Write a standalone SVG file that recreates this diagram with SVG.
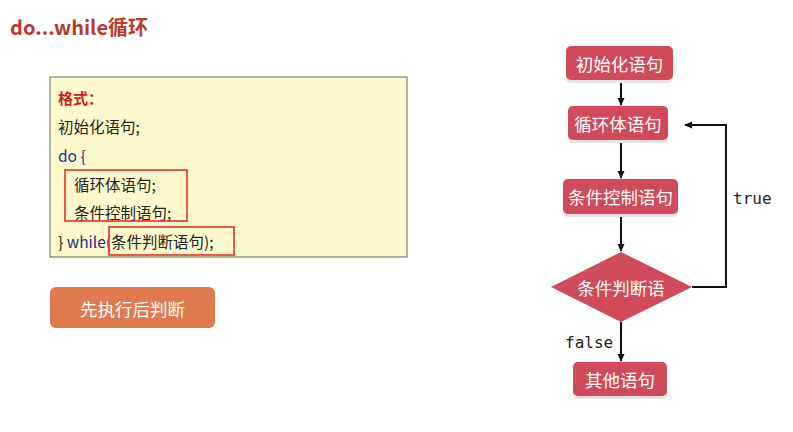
<svg xmlns="http://www.w3.org/2000/svg" width="793" height="432" viewBox="0 0 793 432">
<defs>
<marker id="ah" markerWidth="8" markerHeight="8" refX="7" refY="4" orient="auto" markerUnits="userSpaceOnUse">
<path d="M0,0.5 L8,4 L0,7.5 z" fill="#111"/>
</marker>
</defs>
<style>
text{font-family:"Noto Sans CJK SC","Liberation Sans",sans-serif}
.code{font-size:15.5px;fill:#222}
.node{fill:#d04a5a}
.shadow{fill:#e3e3e3}
.nt{font-size:17.5px;fill:#fff;text-anchor:middle;dominant-baseline:central}
.mono{font-family:"DejaVu Sans Mono","Liberation Mono",monospace;font-size:16px;fill:#222}
.conn{stroke:#111;stroke-width:2;fill:none}
.hl{fill:none;stroke:#e8302a;stroke-width:1.6}
</style>
<rect width="793" height="432" fill="#fff"/>
<text x="10" y="35" font-size="20" font-weight="bold" fill="#b83b2e">do...while循环</text>

<g id="code-box">
<rect x="50" y="77" width="357" height="180" fill="#fdf9cc" stroke="#666" stroke-width="1"/>
<text x="58" y="104" font-size="15" font-weight="bold" fill="#cc1f1a">格式：</text>
<text x="58" y="133" class="code">初始化语句;</text>
<text x="58" y="162" class="code" style="fill:#1d2a8c">do {</text>
<text x="74" y="191" class="code">循环体语句;</text>
<text x="74" y="219" class="code">条件控制语句;</text>
<text x="58" y="248" class="code"><tspan fill="#222">} </tspan><tspan fill="#1d2a8c">while(</tspan><tspan fill="#222">条件判断语句);</tspan></text>
<rect x="65" y="170" width="122" height="51" class="hl"/>
<rect x="109" y="227" width="125" height="28" class="hl"/>
</g>

<g id="button">
<rect x="50" y="287" width="165" height="41" rx="6" fill="#e07a4e"/>
<text x="132.5" y="308" class="nt" style="font-size:17.5px">先执行后判断</text>
</g>

<g id="connectors">
<line x1="621" y1="80" x2="621" y2="105" class="conn" marker-end="url(#ah)"/>
<line x1="621" y1="140" x2="621" y2="178" class="conn" marker-end="url(#ah)"/>
<line x1="621" y1="214" x2="621" y2="251" class="conn" marker-end="url(#ah)"/>
<line x1="621" y1="322" x2="621" y2="361" class="conn" marker-end="url(#ah)"/>
<polyline points="692,287 726,287 726,125 685,125" class="conn" marker-end="url(#ah)"/>
<text x="733" y="204" class="mono">true</text>
<text x="565" y="348" class="mono">false</text>
</g>

<g id="n-init">
<rect x="566" y="49" width="107" height="34" rx="5" class="shadow"/>
<rect x="566" y="46" width="107" height="34" rx="5" class="node"/>
<text x="619.5" y="63" class="nt">初始化语句</text>
</g>
<g id="n-body">
<rect x="568" y="109" width="100" height="34" rx="5" class="shadow"/>
<rect x="568" y="106" width="100" height="34" rx="5" class="node"/>
<text x="618" y="123" class="nt">循环体语句</text>
</g>
<g id="n-ctrl">
<rect x="563" y="182" width="115" height="35" rx="5" class="shadow"/>
<rect x="563" y="179" width="115" height="35" rx="5" class="node"/>
<text x="620.5" y="196.5" class="nt">条件控制语句</text>
</g>
<g id="n-cond">
<polygon points="621,252 692,287 621,322 551,287" class="node"/>
<text x="621" y="287" class="nt">条件判断语</text>
</g>
<g id="n-other">
<rect x="573" y="365" width="94" height="34" rx="5" class="shadow"/>
<rect x="573" y="362" width="94" height="34" rx="5" class="node"/>
<text x="620" y="379" class="nt">其他语句</text>
</g>
</svg>
